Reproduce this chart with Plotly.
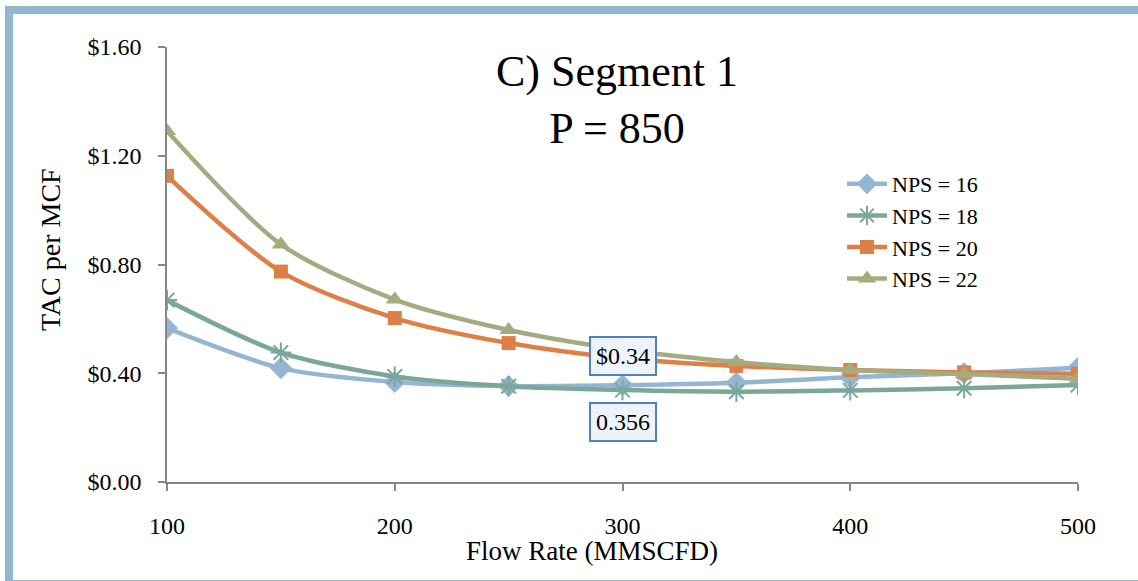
import plotly.graph_objects as go

flow_rate = [100, 150, 200, 250, 300, 350, 400, 450, 500]
nps16 = [0.566, 0.419, 0.368, 0.353, 0.356, 0.365, 0.385, 0.400, 0.420]
nps18 = [0.669, 0.476, 0.388, 0.352, 0.338, 0.332, 0.337, 0.345, 0.357]
nps20 = [1.126, 0.774, 0.603, 0.511, 0.455, 0.427, 0.412, 0.403, 0.398]
nps22 = [1.291, 0.874, 0.671, 0.559, 0.487, 0.441, 0.412, 0.397, 0.380]
y_ticks = [0.0, 0.4, 0.8, 1.2, 1.6]
y_tick_labels = ["$%.2f" % v for v in y_ticks]
x_ticks = [100, 200, 300, 400, 500]

FONT = "Liberation Serif"
W, H = 1138, 581
L, R, T, B = 167, 60, 47, 99
pw, ph = W - L - R, H - T - B

def px(x):
    return (x - L) / pw

def py(y):
    return (H - B - y) / ph

fig = go.Figure()
series = [
    ("NPS = 16", nps16, "#94b6d2", dict(symbol="diamond", size=17)),
    ("NPS = 18", nps18, "#7aa79a", dict(symbol="asterisk-open", size=17,
                                         line=dict(width=2, color="#7aa79a"))),
    ("NPS = 20", nps20, "#dd8047", dict(symbol="square", size=14)),
    ("NPS = 22", nps22, "#a5ab81", dict(symbol="triangle-up", size=16)),
]
for name, vals, col, mk in series:
    fig.add_trace(go.Scatter(
        x=flow_rate, y=vals, name=name, mode="lines+markers",
        line=dict(color=col, width=4.5, shape="spline", smoothing=0.8),
        marker=dict(color=col, **mk),
    ))

# data labels at 300
i300 = flow_rate.index(300)
fig.add_annotation(x=300, y=nps18[i300], text="$0.34", showarrow=False, yshift=34,
                   font=dict(family=FONT, size=24, color="black"),
                   bgcolor="#eef3f9", bordercolor="#4f81bd", borderwidth=2, borderpad=5)
fig.add_annotation(x=300, y=nps16[i300], text="0.356", showarrow=False, yshift=-37,
                   font=dict(family=FONT, size=24, color="black"),
                   bgcolor="#eef3f9", bordercolor="#4f81bd", borderwidth=2, borderpad=5)

# title
fig.add_annotation(xref="paper", yref="paper", x=px(617), y=py(100), text="C) Segment 1<br>P = 850",
                   showarrow=False, xanchor="center", yanchor="middle",
                   font=dict(family=FONT, size=44, color="black"))
# axis titles
fig.add_annotation(xref="paper", yref="paper", x=px(592), y=py(551), text="Flow Rate (MMSCFD)",
                   showarrow=False, xanchor="center", yanchor="middle",
                   font=dict(family=FONT, size=27, color="black"))
fig.add_annotation(xref="paper", yref="paper", x=px(50), y=py(250), text="TAC per MCF",
                   showarrow=False, xanchor="center", yanchor="middle", textangle=-90,
                   font=dict(family=FONT, size=28, color="black"))

# outer border
fig.add_shape(type="rect", xref="paper", yref="paper", x0=px(9), x1=px(1150), y0=py(584), y1=py(10),
              line=dict(color="#94b6d2", width=8), layer="below")

fig.update_layout(
    width=W, height=H, margin=dict(l=L, r=R, t=T, b=B),
    paper_bgcolor="white", plot_bgcolor="white",
    font=dict(family=FONT, color="black"),
    showlegend=True,
    legend=dict(x=px(842), y=py(163), xanchor="left", yanchor="top",
                font=dict(family=FONT, size=22, color="black"),
                bgcolor="rgba(0,0,0,0)", tracegroupgap=0, itemwidth=40),
    xaxis=dict(range=[100, 500], tickvals=x_ticks, showgrid=False, zeroline=False,
               showline=True, linecolor="#868686", linewidth=1.5,
               ticks="outside", ticklen=7, tickcolor="#868686", tickwidth=1.5,
               ticklabelstandoff=14,
               tickfont=dict(family=FONT, size=24, color="black")),
    yaxis=dict(range=[0, 1.6], tickvals=y_ticks, ticktext=y_tick_labels,
               showgrid=False, zeroline=False,
               showline=True, linecolor="#868686", linewidth=1.5,
               ticks="outside", ticklen=7, tickcolor="#868686", tickwidth=1.5,
               ticklabelstandoff=12,
               tickfont=dict(family=FONT, size=24, color="black")),
)

fig.write_html("out.html")
